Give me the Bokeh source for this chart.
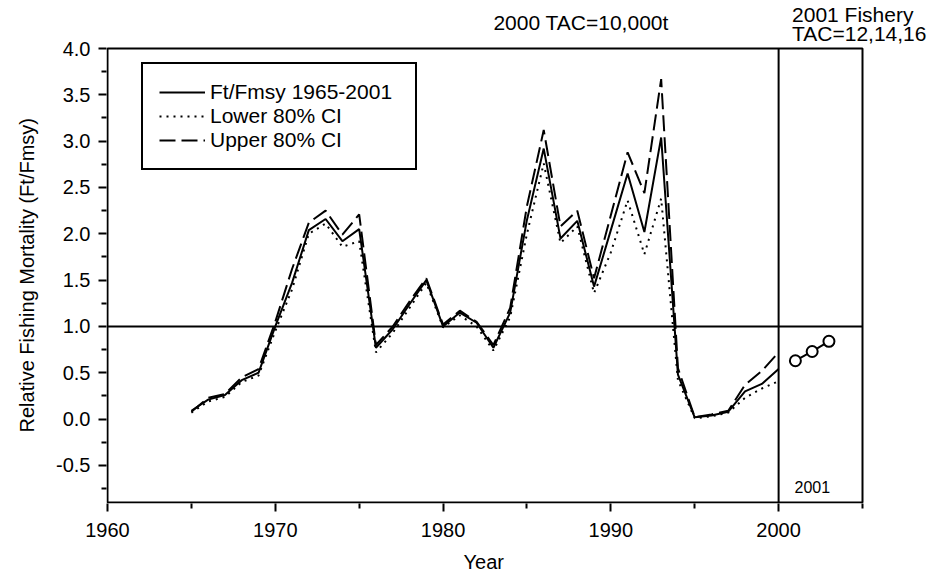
from bokeh.plotting import figure
from bokeh.models import (Range1d, FixedTicker, NumeralTickFormatter, Label, Title,
                          Legend, LegendItem)
from bokeh.embed import file_html
from bokeh.resources import INLINE

# Relative fishing mortality estimates with 80% confidence bounds
years = list(range(1965, 2001))
ft_fmsy = [0.09, 0.21, 0.26, 0.42, 0.50, 1.00, 1.47, 2.04, 2.16, 1.92,
           2.05, 0.77, 0.97, 1.24, 1.50, 1.00, 1.15, 1.04, 0.77, 1.15,
           2.15, 2.92, 1.95, 2.14, 1.43, 2.04, 2.65, 2.02, 3.04, 0.48,
           0.02, 0.04, 0.08, 0.30, 0.38, 0.54]
lower_80 = [0.07, 0.19, 0.24, 0.40, 0.47, 0.95, 1.40, 2.00, 2.11, 1.86,
            1.92, 0.72, 0.93, 1.20, 1.47, 0.99, 1.12, 1.00, 0.74, 1.10,
            2.00, 2.76, 1.90, 2.08, 1.36, 1.80, 2.36, 1.78, 2.38, 0.42,
            0.01, 0.03, 0.07, 0.23, 0.33, 0.41]
upper_80 = [0.08, 0.23, 0.27, 0.45, 0.54, 1.05, 1.62, 2.12, 2.25, 1.99,
            2.21, 0.80, 1.00, 1.27, 1.52, 1.02, 1.17, 1.05, 0.80, 1.20,
            2.30, 3.12, 2.08, 2.25, 1.52, 2.20, 2.88, 2.44, 3.67, 0.55,
            0.02, 0.05, 0.09, 0.37, 0.52, 0.72]

# Projected values under the 2001 fishery TAC options (12, 14, 16)
proj_years = [2001, 2002, 2003]
proj_vals = [0.63, 0.73, 0.84]

x_ticks = [1960, 1970, 1980, 1990, 2000]
x_minor = [1965, 1975, 1985, 1995, 2005]
y_ticks = [-0.5, 0.0, 0.5, 1.0, 1.5, 2.0, 2.5, 3.0, 3.5, 4.0]
y_minor = [-0.75, -0.25, 0.25, 0.75, 1.25, 1.75, 2.25, 2.75, 3.25, 3.75]

FONT = "Liberation Sans"

# Plotting box (data limits) and its pixel scale
X0, X1 = 1960, 2005
Y0, Y1 = -0.9, 4.0
PX_PER_YEAR = 755 / (X1 - X0)
PX_PER_UNIT = 454 / (Y1 - Y0)

# The frame reaches the top and right edges of the canvas so that the
# header notes above the box can be drawn as ordinary labels.
LEFT, BOTTOM = 106, 85
FRAME_W, FRAME_H = 932 - LEFT, 588 - BOTTOM
xs = X0 - 1 / PX_PER_YEAR
ys = Y0 - 1 / PX_PER_UNIT

p = figure(frame_width=FRAME_W, frame_height=FRAME_H, output_backend="svg",
           toolbar_location=None,
           x_range=Range1d(xs, xs + FRAME_W / PX_PER_YEAR),
           y_range=Range1d(ys, ys + FRAME_H / PX_PER_UNIT),
           min_border_left=LEFT, min_border_right=0, min_border_top=0,
           min_border_bottom=BOTTOM)
p.title.visible = False
p.grid.visible = False
p.outline_line_color = None
p.background_fill_color = "white"
p.border_fill_color = "white"

for ax in (p.xaxis[0], p.yaxis[0]):
    ax.axis_line_color = None
    ax.major_tick_line_width = 2
    ax.minor_tick_line_width = 2
    ax.major_tick_out = 8
    ax.major_tick_in = 0
    ax.minor_tick_out = 5
    ax.minor_tick_in = 0
    ax.major_label_standoff = 8
    ax.major_label_text_font = FONT
    ax.major_label_text_font_size = "20px"
    ax.major_label_text_color = "black"
p.xaxis.major_label_standoff = 11

p.xaxis.ticker = FixedTicker(ticks=x_ticks, minor_ticks=x_minor)
p.yaxis.ticker = FixedTicker(ticks=y_ticks, minor_ticks=y_minor)
p.yaxis.formatter = NumeralTickFormatter(format="0.0")

# Axis titles, centred on the plot box rather than on the whole frame
y_title = Title(text="Relative Fishing Mortality (Ft/Fmsy)", align="left", offset=71,
                vertical_align="top", standoff=28, text_font=FONT,
                text_font_size="20px", text_font_style="normal", text_color="black")
x_title = Title(text="Year", align="left", offset=357, vertical_align="bottom",
                standoff=18, text_font=FONT, text_font_size="20px",
                text_font_style="normal", text_color="black")
p.add_layout(y_title, "left")
p.add_layout(x_title, "below")

# Plot box, Ft = Fmsy reference line and start of the projection period
p.quad(left=[X0], right=[X1], bottom=[Y0], top=[Y1], fill_color=None,
       line_color="black", line_width=2)
p.segment(x0=[X0], y0=[1.0], x1=[X1], y1=[1.0], line_color="black", line_width=2)
p.segment(x0=[2000], y0=[Y0], x1=[2000], y1=[Y1], line_color="black", line_width=2)

r_main = p.line(years, ft_fmsy, line_color="black", line_width=2)
r_low = p.line(years, lower_80, line_color="black", line_width=2, line_dash="2 5")
r_up = p.line(years, upper_80, line_color="black", line_width=2, line_dash="16 6")

p.line(proj_years, proj_vals, line_color="black", line_width=2)
p.scatter(proj_years, proj_vals, size=11, marker="circle", fill_color="white",
          line_color="black", line_width=2)

legend = Legend(items=[LegendItem(label="Ft/Fmsy 1965-2001", renderers=[r_main]),
                       LegendItem(label="Lower 80% CI", renderers=[r_low]),
                       LegendItem(label="Upper 80% CI", renderers=[r_up])],
                location=(35, FRAME_H - 170))
legend.border_line_color = "black"
legend.border_line_alpha = 1.0
legend.border_line_width = 2
legend.background_fill_color = "white"
legend.background_fill_alpha = 1.0
legend.padding = 16
legend.spacing = 0
legend.margin = 0
legend.glyph_width = 46
legend.glyph_height = 20
legend.label_height = 20
legend.label_width = 189
legend.label_standoff = 5
legend.label_text_font = FONT
legend.label_text_font_size = "21px"
legend.label_text_color = "black"
p.add_layout(legend)

notes = [(1983.0, 4.281, "2000 TAC=10,000t", "21px"),
         (2000.8, 4.367, "2001 Fishery", "21px"),
         (2000.8, 4.162, "TAC=12,14,16", "21px"),
         (2000.95, -0.728, "2001", "16px")]
for nx, ny, txt, size in notes:
    p.add_layout(Label(x=nx, y=ny, text=txt, text_font=FONT, text_font_size=size,
                       text_color="black", text_baseline="middle"))

open("out.html", "w").write(file_html(p, INLINE))
